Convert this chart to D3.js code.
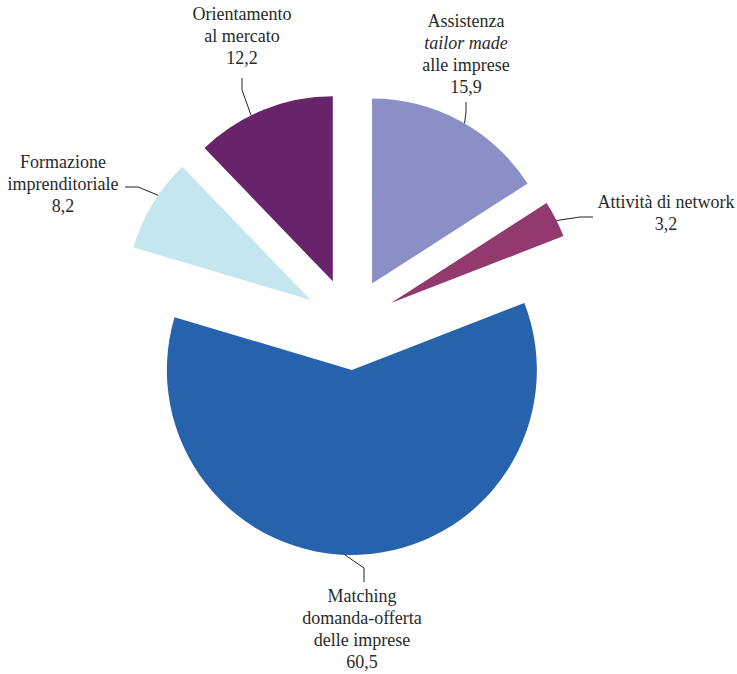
<!DOCTYPE html>
<html>
<head>
<meta charset="utf-8">
<script src="https://cdn.jsdelivr.net/npm/d3@7"></script>
<style>
  body { margin: 0; background: #fff; }
  svg { display: block; }
</style>
</head>
<body>
<script>
const categories = ["Assistenza tailor made alle imprese", "Attività di network", "Matching domanda-offerta delle imprese", "Formazione imprenditoriale", "Orientamento al mercato"]
const values = [15.9, 3.2, 60.5, 8.2, 12.2]
const labelLines = [
  [["Assistenza"], ["tailor made", true], ["alle imprese"]],
  [["Attività di network"]],
  [["Matching"], ["domanda-offerta"], ["delle imprese"]],
  [["Formazione"], ["imprenditoriale"]],
  [["Orientamento"], ["al mercato"]]
]
const colors = ["#8b8fc6", "#923a6e", "#2763ad", "#c4e7ef", "#67246b"]

const width = 737, height = 674
const cx = 350, cy = 324
const radius = 185
const explode = 46
const fontFamily = "'Liberation Serif', 'Times New Roman', serif"

// label layout: text anchor point, first baseline, and leader geometry
const layout = [
  { x: 466, y: 27, elbow: [466, 112], start: [466, 102], angle: 30 },
  { x: 666, y: 208, elbow: [580, 217], start: [593, 217], angle: 63.5 },
  { x: 362, y: 602, elbow: [364, 568], start: [364, 582], angle: 182.2 },
  { x: 63, y: 168, elbow: [138, 187], start: [125, 187], angle: 304.5 },
  { x: 242, y: 20, elbow: [242, 90], start: [242, 78], angle: 333.8 }
]
const lineGap = 22

const svg = d3.select("body").append("svg")
  .attr("width", width)
  .attr("height", height)

const pie = d3.pie().sort(null).value(d => d)
const arcs = pie(values)
const arc = d3.arc().innerRadius(0).outerRadius(radius)

function offset(d) {
  const mid = (d.startAngle + d.endAngle) / 2
  return [cx + Math.sin(mid) * explode, cy - Math.cos(mid) * explode]
}

svg.append("g").selectAll("path")
  .data(arcs)
  .join("path")
  .attr("transform", d => `translate(${offset(d)})`)
  .attr("d", arc)
  .attr("fill", (d, i) => colors[i])

const fmt = v => d3.format(".1f")(v).replace(".", ",")

// leader lines
svg.append("g").selectAll("path")
  .data(arcs)
  .join("path")
  .attr("fill", "none")
  .attr("stroke", "#222")
  .attr("stroke-width", 1)
  .attr("d", (d, i) => {
    const L = layout[i]
    const o = offset(d)
    const a = L.angle * Math.PI / 180
    const end = [o[0] + Math.sin(a) * radius, o[1] - Math.cos(a) * radius]
    return d3.line()([L.start, L.elbow, end])
  })

// labels
const labels = svg.append("g").selectAll("text")
  .data(arcs)
  .join("text")
  .attr("text-anchor", "middle")
  .attr("font-family", fontFamily)
  .attr("font-size", 18)
  .attr("fill", "#2a2a2a")

labels.each(function(d, i) {
  const L = layout[i]
  const t = d3.select(this)
  const lines = labelLines[i].concat([[fmt(values[i])]])
  lines.forEach((ln, j) => {
    t.append("tspan")
      .attr("x", L.x)
      .attr("y", L.y + j * lineGap)
      .attr("font-style", ln[1] ? "italic" : null)
      .text(ln[0])
  })
})
</script>
</body>
</html>
